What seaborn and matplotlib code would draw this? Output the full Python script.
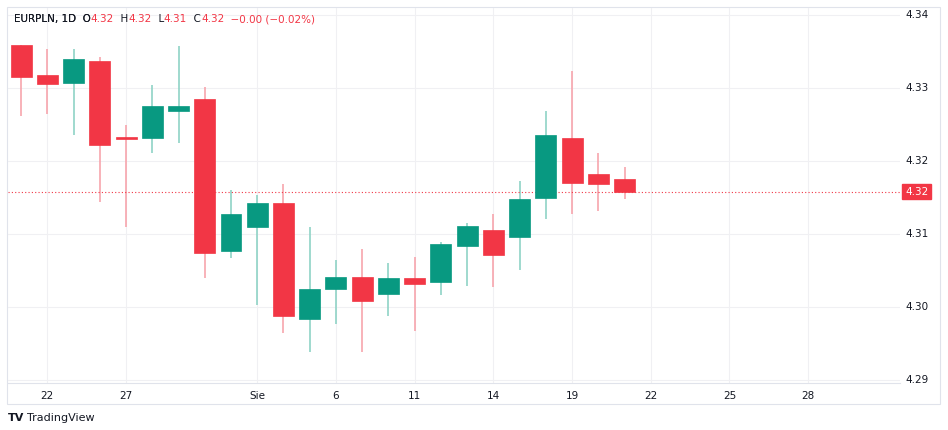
import matplotlib
matplotlib.use("Agg")
import matplotlib.pyplot as plt
import matplotlib.patches as mpatches
import seaborn as sns
import numpy as np

# ── Data (EURPLN, 1D) ─────────────────────────────────────────────────────────
opens  = [4.3359, 4.3318, 4.3307, 4.3337, 4.3232, 4.3232, 4.3269, 4.3285, 4.3077, 4.3110,
          4.3142, 4.2983, 4.3024, 4.3041, 4.3018, 4.3040, 4.3034, 4.3084, 4.3106, 4.3096,
          4.3149, 4.3231, 4.3182, 4.3176]
highs  = [4.3359, 4.3354, 4.3353, 4.3343, 4.3250, 4.3304, 4.3358, 4.3301, 4.3160, 4.3153,
          4.3168, 4.3110, 4.3065, 4.3079, 4.3060, 4.3068, 4.3089, 4.3115, 4.3128, 4.3173,
          4.3268, 4.3323, 4.3211, 4.3192]
lows   = [4.3262, 4.3265, 4.3235, 4.3144, 4.3110, 4.3211, 4.3224, 4.3040, 4.3067, 4.3003,
          4.2965, 4.2938, 4.2977, 4.2939, 4.2988, 4.2967, 4.3016, 4.3029, 4.3028, 4.3051,
          4.3120, 4.3127, 4.3132, 4.3148]
closes = [4.3315, 4.3305, 4.3340, 4.3222, 4.3230, 4.3275, 4.3275, 4.3074, 4.3127, 4.3143,
          4.2988, 4.3024, 4.3041, 4.3008, 4.3040, 4.3032, 4.3086, 4.3111, 4.3071, 4.3148,
          4.3236, 4.3170, 4.3168, 4.3158]
tick_pos    = [1, 4, 9, 12, 15, 18, 21, 24, 27, 30]
tick_labels = ["22", "27", "Sie", "6", "11", "14", "19", "22", "25", "28"]
price_ticks = [4.29, 4.30, 4.31, 4.32, 4.33, 4.34]

GREEN, RED = "#089981", "#F23645"
GREEN_W, RED_W = "#8FD3C6", "#F7A5AD"

sns.set_style("white")
plt.rcParams["font.family"] = ["DejaVu Sans"]

fig = plt.figure(figsize=(9.48, 4.30), dpi=100)
W, H = 948, 430
# plot area in pixels: x 8..900, y 8..383 (top-origin)
ax = fig.add_axes([8 / W, 1 - 383 / H, (900 - 8) / W, (383 - 8) / H])
ax.set_xlim(-0.5, 33.5)
ax.set_ylim(4.28959, 4.34096)

for y in price_ticks:
    ax.axhline(y, color="#F0F0F3", lw=0.8, zorder=0)
for x in tick_pos:
    ax.axvline(x, color="#F0F0F3", lw=0.8, zorder=0)

idx = np.arange(len(opens))
for i, o, h, l, c in zip(idx, opens, highs, lows, closes):
    up = c >= o
    ax.vlines(i, l, h, color=GREEN_W if up else RED_W, lw=1.2, zorder=1)
    lo_b, hi_b = min(o, c), max(o, c)
    hgt = max(hi_b - lo_b, 0.00025)
    ax.bar(i, hgt, bottom=lo_b, width=0.8, color=GREEN if up else RED,
           edgecolor=GREEN if up else RED, lw=0.5, zorder=2)

last = closes[-1]
ax.axhline(last, color=RED, lw=0.8, ls=(0, (1, 2)), zorder=1)

for s in ["top", "left", "right"]:
    ax.spines[s].set_visible(False)
ax.spines["bottom"].set_color("#E0E3EB")
ax.set_xticks(tick_pos)
ax.set_xticklabels(tick_labels, fontsize=7.5, color="#131722")
ax.tick_params(axis="x", length=0, pad=6)
ax.set_yticks([])

# price axis labels on the right
for y in price_ticks:
    ax.text(1.0 + 5 / 892, y, f"{y:.2f}", transform=ax.get_yaxis_transform(),
            fontsize=7.5, color="#131722", va="center", ha="left", clip_on=False)
ax.text(1.0 + 5 / 892, last, f"{last:.2f}", transform=ax.get_yaxis_transform(),
        fontsize=7.5, color="white", va="center", ha="left", clip_on=False,
        bbox=dict(boxstyle="square,pad=0.25", fc=RED, ec=RED))

# outer frame
fig.patches.append(mpatches.Rectangle((7 / W, 1 - 404 / H), (940 - 7) / W, (404 - 7) / H,
                                      transform=fig.transFigure, fill=False,
                                      ec="#E0E3EB", lw=0.8))

# header
fig.text(14 / W, 1 - 19 / H, "EURPLN, 1D  O", fontsize=7.5, color="#131722", va="center")
hdr = [("4.32", RED), ("  H", "#131722"), ("4.32", RED), ("  L", "#131722"), ("4.31", RED),
       ("  C", "#131722"), ("4.32", RED), ("  −0.00 (−0.02%)", RED)]
t = fig.text(14 / W, 1 - 19 / H, "EURPLN, 1D  O", fontsize=7.5, color="#131722", va="center")
fig.canvas.draw()
x0 = t.get_window_extent().x1
for s, col in hdr:
    tt = fig.text(x0 / W, 1 - 19 / H, s, fontsize=7.5, color=col, va="center")
    fig.canvas.draw()
    x0 = tt.get_window_extent().x1

fig.text(8 / W, 1 - 418 / H, "TV", fontsize=8, fontweight="bold", color="#131722", va="center")
fig.text(27 / W, 1 - 418 / H, "TradingView", fontsize=8, color="#131722", va="center")

fig.savefig("out.png", dpi=100)
